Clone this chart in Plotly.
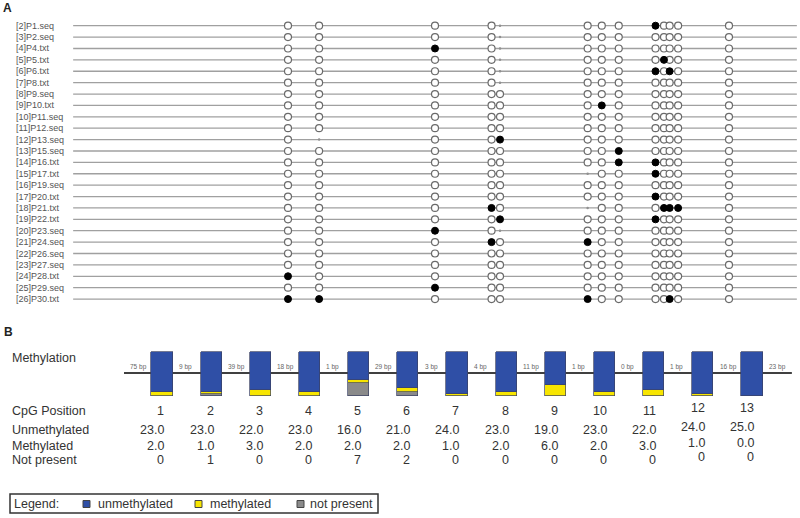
import plotly.graph_objects as go

W, H = 800, 518

# ---------------- data ----------------
row_labels = ["[2]P1.seq", "[3]P2.seq", "[4]P4.txt", "[5]P5.txt", "[6]P6.txt", "[7]P8.txt",
              "[8]P9.seq", "[9]P10.txt", "[10]P11.seq", "[11]P12.seq", "[12]P13.seq",
              "[13]P15.seq", "[14]P16.txt", "[15]P17.txt", "[16]P19.seq", "[17]P20.txt",
              "[18]P21.txt", "[19]P22.txt", "[20]P23.seq", "[21]P24.seq", "[22]P26.seq",
              "[23]P27.seq", "[24]P28.txt", "[25]P29.seq", "[26]P30.txt"]
# per read, status of CpG 1..13: o = unmethylated, X = methylated, . = not present
read_calls = ["oooo.oooXoooo", "oooo.oooooooo", "ooXo.oooooooo", "oooo.ooooXooo",
              "oooo.oooXoXoo", "oooo.oooooooo", "ooooooooooooo", "ooooooXoooooo",
              "ooooooooooooo", "ooooooooooooo", "o.ooXoooooooo", "oooooooXooooo",
              "oooooooXXoooo", "ooooo.ooXoooo", "ooooooooooooo", "ooooooooXoooo",
              "oooXo.oooXXXo", "ooooXoooXoooo", "ooXo.oooooooo", "oooXoXooooooo",
              "ooooooooooooo", "ooooooooooooo", "Xoooooooooooo", "ooXoooooooooo",
              "XXoooXooooXoo"]
gap_bp = [75, 9, 39, 18, 1, 29, 3, 4, 11, 1, 0, 1, 16, 23]
cpg_position = list(range(1, 14))
unmethylated = [23.0, 23.0, 22.0, 23.0, 16.0, 21.0, 24.0, 23.0, 19.0, 23.0, 22.0, 24.0, 25.0]
methylated = [2.0, 1.0, 3.0, 2.0, 2.0, 2.0, 1.0, 2.0, 6.0, 2.0, 3.0, 1.0, 0.0]
not_present = [0, 1, 0, 0, 7, 2, 0, 0, 0, 0, 0, 0, 0]

# ---------------- styles ----------------
FONT = "Liberation Sans, Arial, sans-serif"
BLUE, YELLOW, GREY = "#2f4fa6", "#f7e500", "#8a8a8a"
TXT = "#333333"

def px_x(p):
    return p / W

def px_y(p):
    return 1 - p / H

# site centres along the amplicon (bp)
centres = []
pos = gap_bp[0] + 1
centres.append(pos)
for g in gap_bp[1:13]:
    pos += 2 + g
    centres.append(pos)
seq_end = pos + 1 + gap_bp[13]

fig = go.Figure()

# ---------------- panel A ----------------
lx, ly = [], []
for i in range(len(row_labels)):
    lx += [0, seq_end, None]
    ly += [i, i, None]
fig.add_trace(go.Scatter(x=lx, y=ly, mode="lines", line=dict(color="#a0a0a0", width=1.3),
                         hoverinfo="skip", showlegend=False))

groups = {"o": ([], []), "X": ([], []), ".": ([], [])}
for i, calls in enumerate(read_calls):
    for j, c in enumerate(calls):
        groups[c][0].append(centres[j])
        groups[c][1].append(i)

fig.add_trace(go.Scatter(x=groups["o"][0], y=groups["o"][1], mode="markers",
                         marker=dict(symbol="circle", size=7, color="white",
                                     line=dict(color="#6a6a6a", width=1.2)),
                         showlegend=False))
fig.add_trace(go.Scatter(x=groups["X"][0], y=groups["X"][1], mode="markers",
                         marker=dict(symbol="circle", size=7, color="black",
                                     line=dict(color="black", width=1)),
                         showlegend=False))
fig.add_trace(go.Scatter(x=groups["."][0], y=groups["."][1], mode="markers",
                         marker=dict(symbol="circle", size=2.5, color="#909090",
                                     line=dict(width=0)),
                         showlegend=False))

annotations = []
for i, lab in enumerate(row_labels):
    annotations.append(dict(x=px_x(14), xref="paper", y=i, yref="y", text=lab,
                            xanchor="left", yanchor="middle", showarrow=False,
                            font=dict(size=9, color="#555555", family=FONT)))

annotations.append(dict(x=px_x(1), y=px_y(7.5), xref="paper", yref="paper", text="<b>A</b>",
                        xanchor="left", yanchor="middle", showarrow=False,
                        font=dict(size=12, color="#222", family=FONT)))
annotations.append(dict(x=px_x(2), y=px_y(332), xref="paper", yref="paper", text="<b>B</b>",
                        xanchor="left", yanchor="middle", showarrow=False,
                        font=dict(size=12, color="#222", family=FONT)))

# ---------------- panel B ----------------
bar_w = 0.43
line_col = "#3b4264"
for vals, col in [(not_present, GREY), (methylated, YELLOW), (unmethylated, BLUE)]:
    fig.add_trace(go.Bar(x=cpg_position, y=vals, xaxis="x2", yaxis="y2", width=bar_w,
                         marker=dict(color=col, line=dict(color=line_col, width=0.7)),
                         showlegend=False))

shapes = []
shapes.append(dict(type="line", xref="x2", yref="y2", x0=0.227, x1=13.81, y0=12.8, y1=12.8,
                   line=dict(color="black", width=1.6), layer="below"))

# gap labels
gap_x = [0.30] + [k + 0.30 for k in cpg_position]
for gx, g in zip(gap_x, gap_bp):
    annotations.append(dict(x=gx, xref="x2", y=16.4, yref="y2", text=f"{g} bp",
                            xanchor="left", yanchor="middle", showarrow=False,
                            font=dict(size=6.5, color="#666666", family=FONT)))

# row titles
for lab, yy in [("Methylation", 358), ("CpG Position", 411), ("Unmethylated", 430),
                ("Methylated", 446), ("Not present", 460)]:
    annotations.append(dict(x=px_x(10), xref="paper", y=px_y(yy), yref="paper", text=lab,
                            xanchor="left", yanchor="middle", showarrow=False,
                            font=dict(size=12.5, color=TXT, family=FONT)))

col_yshift = {12: 3, 13: 3}
rows_b = [(411, [str(k) for k in cpg_position]),
          (430, [f"{v:.1f}" for v in unmethylated]),
          (446, [f"{v:.1f}" for v in methylated]),
          (460, [f"{v:d}" for v in not_present])]
for yy, texts in rows_b:
    for k, t in zip(cpg_position, texts):
        annotations.append(dict(x=k + 0.09, xref="x2", y=px_y(yy), yref="paper", text=t,
                                xanchor="right", yanchor="middle", showarrow=False,
                                yshift=col_yshift.get(k, 0),
                                font=dict(size=12.5, color=TXT, family=FONT)))

# legend box
shapes.append(dict(type="rect", xref="paper", yref="paper", x0=px_x(10), x1=px_x(378),
                   y0=px_y(513), y1=px_y(494), line=dict(color="#333", width=1.5),
                   fillcolor="white"))
annotations.append(dict(x=px_x(12), xref="paper", y=px_y(504), yref="paper", text="Legend:",
                        xanchor="left", yanchor="middle", showarrow=False,
                        font=dict(size=12.5, color=TXT, family=FONT)))
for sx, tx, col, lab in [(83, 96, BLUE, "unmethylated"), (195, 208, YELLOW, "methylated"),
                         (297, 308, GREY, "not present")]:
    shapes.append(dict(type="rect", xref="paper", yref="paper", x0=px_x(sx), x1=px_x(sx + 7),
                       y0=px_y(507.5), y1=px_y(500.5), fillcolor=col,
                       line=dict(color="#444", width=1)))
    annotations.append(dict(x=px_x(tx), xref="paper", y=px_y(504), yref="paper", text=lab,
                            xanchor="left", yanchor="middle", showarrow=False,
                            font=dict(size=12.5, color=TXT, family=FONT)))

# ---------------- axes ----------------
b = (288 - 729) / (centres[0] - centres[-1])
a = 288 - centres[0] * b
row0, rstep = 25.7, 11.39
px_per_unit = (395.5 - 351.7) / 25.0

fig.update_layout(
    width=W, height=H, margin=dict(l=0, r=0, t=0, b=0),
    paper_bgcolor="white", plot_bgcolor="rgba(0,0,0,0)",
    barmode="stack", bargap=0,
    xaxis=dict(domain=[0, 1], range=[-a / b, (W - a) / b], visible=False, fixedrange=True),
    yaxis=dict(domain=[0, 1], range=[(H - row0) / rstep, -row0 / rstep], visible=False,
               fixedrange=True),
    xaxis2=dict(domain=[0, 1], anchor="y2", range=[1 - 162 / 49.17, 1 + (W - 162) / 49.17],
                visible=False, fixedrange=True),
    yaxis2=dict(domain=[0, 1], anchor="x2", range=[-(H - 395.5) / px_per_unit, 395.5 / px_per_unit],
                visible=False, fixedrange=True),
    shapes=shapes, annotations=annotations,
    font=dict(family=FONT),
)

fig.write_html("out.html", config={"displayModeBar": False},
               post_script="document.body.style.margin='0px';document.body.style.overflow='hidden';")
